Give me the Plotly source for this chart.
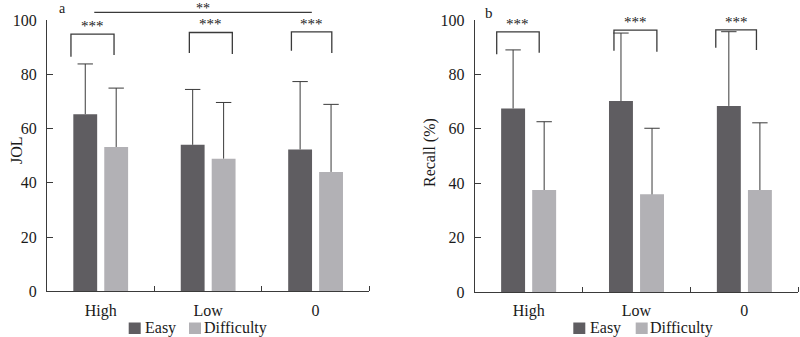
import plotly.graph_objects as go

# ---- data -------------------------------------------------------------
categories = ["High", "Low", "0"]
groups = ["Easy", "Difficulty"]

jol_easy = [65.3, 54.0, 52.3]
jol_easy_sd = [18.5, 20.4, 25.0]
jol_diff = [53.2, 48.9, 44.0]
jol_diff_sd = [21.7, 20.7, 24.9]

recall_easy = [67.5, 70.2, 68.4]
recall_easy_sd = [21.5, 25.0, 27.3]
recall_diff = [37.5, 35.9, 37.5]
recall_diff_sd = [25.1, 24.3, 24.7]

y_ticks = [0, 20, 40, 60, 80, 100]

# ---- styling ----------------------------------------------------------
FONT = "Liberation Serif"
EASY_COLOR = "#5f5d61"
DIFF_COLOR = "#b2b1b5"
LINE_COLOR = "#3a3a3a"
TEXT_COLOR = "#1a1a1a"
BAR_W = 0.222
OFFSETS = [-0.255, 0.033]

W, H = 800, 337


def px(x):
    return x / W


def py(y):
    return 1 - y / H


fig = go.Figure()

positions = list(range(len(categories)))
boundaries = [i + 0.5 for i in positions]

panels = [
    dict(xa="x", ya="y", series=[(jol_easy, jol_easy_sd), (jol_diff, jol_diff_sd)]),
    dict(xa="x2", ya="y2", series=[(recall_easy, recall_easy_sd), (recall_diff, recall_diff_sd)]),
]
colors = [EASY_COLOR, DIFF_COLOR]

for p in panels:
    for (vals, sds), name, col, off in zip(p["series"], groups, colors, OFFSETS):
        fig.add_trace(go.Bar(
            x=positions, y=vals, name=name,
            xaxis=p["xa"], yaxis=p["ya"],
            width=BAR_W, offset=off,
            marker=dict(color=col, line=dict(width=0)),
            showlegend=False, hoverinfo="skip",
        ))
        # upper-only error bars: a stem from the bar top plus a cap at mean + SD
        centers = [i + off + BAR_W / 2 for i in positions]
        stem_x, stem_y = [], []
        for c, v, s in zip(centers, vals, sds):
            stem_x += [c, c, None]
            stem_y += [v, v + s, None]
        fig.add_trace(go.Scatter(
            x=stem_x, y=stem_y, mode="lines", xaxis=p["xa"], yaxis=p["ya"],
            line=dict(color=LINE_COLOR, width=1), showlegend=False, hoverinfo="skip",
        ))
        fig.add_trace(go.Scatter(
            x=centers, y=[v + s for v, s in zip(vals, sds)], mode="markers",
            xaxis=p["xa"], yaxis=p["ya"],
            marker=dict(symbol="line-ew", size=11, line=dict(color=LINE_COLOR, width=1)),
            showlegend=False, hoverinfo="skip",
        ))

axis_common = dict(
    showline=True, linecolor=LINE_COLOR, linewidth=1,
    showgrid=False, zeroline=False, mirror=False, automargin=False,
    tickfont=dict(family=FONT, size=16, color=TEXT_COLOR),
)
xaxis_common = dict(
    range=[-0.5, 2.5], tickvals=positions, ticktext=categories, ticks="",
    ticklabelstandoff=4,
    minor=dict(tickvals=boundaries, ticks="inside", ticklen=5, tickcolor=LINE_COLOR),
    **axis_common,
)
yaxis_common = dict(
    range=[0, 100], tickvals=y_ticks, ticks="inside", ticklen=6,
    tickcolor=LINE_COLOR, ticklabelstandoff=6, **axis_common,
)

fig.update_layout(
    width=W, height=H,
    margin=dict(l=0, r=0, t=0, b=0, autoexpand=False),
    paper_bgcolor="white", plot_bgcolor="white",
    showlegend=False,
    barmode="overlay",
    xaxis=dict(domain=[px(47), px(369.3)], anchor="y", **xaxis_common),
    yaxis=dict(domain=[py(291.3), py(20)], anchor="x", **yaxis_common),
    xaxis2=dict(domain=[px(474.7), px(798.3)], anchor="y2", **xaxis_common),
    yaxis2=dict(domain=[py(292), py(20)], anchor="x2", **yaxis_common),
)

# ---- significance brackets (category index / data units) -------------
brackets_a = [  # left, right, top, left leg end, right leg end, label
    (-0.277, 0.124, 94.8, 86.5, 87.1, "***"),
    (0.825, 1.225, 95.4, 87.8, 87.5, "***"),
    (1.775, 2.151, 95.6, 88.7, 87.8, "***"),
]
brackets_b = [
    (-0.296, 0.098, 95.6, 87.4, 88.0, "***"),
    (0.791, 1.189, 96.3, 88.7, 88.3, "***"),
    (1.735, 2.112, 96.4, 89.8, 89.0, "***"),
]


def xd(idx):
    return (idx + 0.5) / 3


def add_brackets(brackets, xa, ya):
    xr, yr = f"{xa} domain", f"{ya} domain"
    for left, right, top, lb, rb, lab in brackets:
        pts = f"M{xd(left)},{lb / 100} L{xd(left)},{top / 100} L{xd(right)},{top / 100} L{xd(right)},{rb / 100}"
        fig.add_shape(type="path", path=pts, xref=xr, yref=yr,
                      line=dict(color=LINE_COLOR, width=1.3))
        fig.add_annotation(x=(xd(left) + xd(right)) / 2, y=(top + 3.0) / 100,
                           xref=xr, yref=yr, text=lab, showarrow=False,
                           xanchor="center", yanchor="middle", borderpad=0,
                           font=dict(family=FONT, size=15, color=TEXT_COLOR))


add_brackets(brackets_a, "x", "y")
add_brackets(brackets_b, "x2", "y2")

# overall comparison across load levels (panel a)
fig.add_shape(type="line", xref="x domain", yref="y domain",
              x0=xd(-0.06), x1=xd(1.965), y0=1.028, y1=1.028,
              line=dict(color=LINE_COLOR, width=1.3))
fig.add_annotation(x=xd(0.95), y=py(0), xref="x domain", yref="paper",
                   text="**", showarrow=False, xanchor="center", yanchor="top",
                   borderpad=0,
                   font=dict(family=FONT, size=14, color=TEXT_COLOR))

# panel letters
fig.add_annotation(x=px(62), y=py(0), xref="paper", yref="paper", text="a",
                   showarrow=False, xanchor="center", yanchor="top", borderpad=0,
                   font=dict(family=FONT, size=14, color=TEXT_COLOR))
fig.add_annotation(x=px(488.5), y=py(13), xref="paper", yref="paper", text="b",
                   showarrow=False, xanchor="center", yanchor="middle",
                   font=dict(family=FONT, size=15, color=TEXT_COLOR))

# axis titles
fig.add_annotation(x=px(16), y=py(150), xref="paper", yref="paper", text="JOL",
                   textangle=-90, showarrow=False, xanchor="center", yanchor="middle",
                   font=dict(family=FONT, size=16, color=TEXT_COLOR))
fig.add_annotation(x=px(430), y=py(153), xref="paper", yref="paper", text="Recall (%)",
                   textangle=-90, showarrow=False, xanchor="center", yanchor="middle",
                   font=dict(family=FONT, size=16, color=TEXT_COLOR))

# legends below each panel
legend_slots = [
    [(128.7, 143), (189, 201.7)],
    [(573.3, 588), (635.7, 648.3)],
]
for slots in legend_slots:
    for (sx, tx), name, col in zip(slots, groups, colors):
        fig.add_shape(type="rect", xref="paper", yref="paper",
                      x0=px(sx), x1=px(sx + 12), y0=py(334), y1=py(322.5),
                      fillcolor=col, line=dict(width=0))
        fig.add_annotation(x=px(tx), y=py(328), xref="paper", yref="paper",
                           text=name, showarrow=False, xanchor="left", yanchor="middle",
                           font=dict(family=FONT, size=16, color=TEXT_COLOR))

fig.write_html("out.html")
